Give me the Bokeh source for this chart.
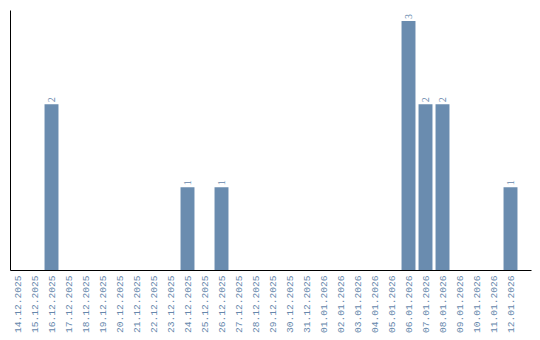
from bokeh.plotting import figure
from bokeh.models import ColumnDataSource, FixedTicker, Range1d, LabelSet
from bokeh.embed import file_html
from bokeh.resources import INLINE

dates = ["14.12.2025", "15.12.2025", "16.12.2025", "17.12.2025", "18.12.2025",
         "19.12.2025", "20.12.2025", "21.12.2025", "22.12.2025", "23.12.2025",
         "24.12.2025", "25.12.2025", "26.12.2025", "27.12.2025", "28.12.2025",
         "29.12.2025", "30.12.2025", "31.12.2025", "01.01.2026", "02.01.2026",
         "03.01.2026", "04.01.2026", "05.01.2026", "06.01.2026", "07.01.2026",
         "08.01.2026", "09.01.2026", "10.01.2026", "11.01.2026", "12.01.2026"]
counts = [0, 0, 2, 0, 0, 0, 0, 0, 0, 0,
          1, 0, 1, 0, 0, 0, 0, 0, 0, 0,
          0, 0, 0, 3, 2, 2, 0, 0, 0, 1]

BAR = "#6a8caf"
TXT = "#6687ab"
FONT = "Liberation Mono"

pos = [i + 0.5 for i in range(len(dates))]
src = ColumnDataSource(dict(
    x=[x for x, c in zip(pos, counts) if c > 0],
    c=[c for c in counts if c > 0],
    t=[str(c) for c in counts if c > 0],
))

p = figure(frame_width=521, frame_height=260, output_backend="svg",
           toolbar_location=None, tools="",
           x_range=Range1d(0.088, 30.735), y_range=Range1d(0, 3.126))
p.vbar(x="x", top="c", width=0.82, source=src, color=BAR, line_color=None)

labels = LabelSet(x="x", y="c", text="t", source=src, angle=1.5708,
                  x_offset=4, y_offset=2, text_font=FONT,
                  text_font_size="10px", text_color=TXT,
                  text_baseline="alphabetic", text_align="left")
p.add_layout(labels)

p.grid.visible = False
p.outline_line_color = None
p.min_border_left = 10
p.min_border_top = 10
p.min_border_right = 9
p.min_border_bottom = 0

p.xaxis.ticker = FixedTicker(ticks=pos)
p.xaxis.major_label_overrides = {x: d for x, d in zip(pos, dates)}
p.xaxis.major_label_orientation = 1.5708
p.xaxis.major_label_text_font = FONT
p.xaxis.major_label_text_font_size = "9.6px"
p.xaxis.major_label_text_color = TXT
p.xaxis.major_tick_line_color = None
p.xaxis.minor_tick_line_color = None
p.xaxis.major_tick_out = 0
p.xaxis.major_tick_in = 0
p.xaxis.axis_line_color = "#000000"
p.xaxis.axis_line_width = 1
p.xaxis.major_label_standoff = 5

p.yaxis.ticker = FixedTicker(ticks=[])
p.yaxis.major_tick_line_color = None
p.yaxis.minor_tick_line_color = None
p.yaxis.major_label_text_font_size = "0px"
p.yaxis.axis_line_color = "#000000"
p.yaxis.axis_line_width = 1
p.yaxis.major_label_standoff = 0

open("out.html", "w").write(file_html(p, INLINE))
